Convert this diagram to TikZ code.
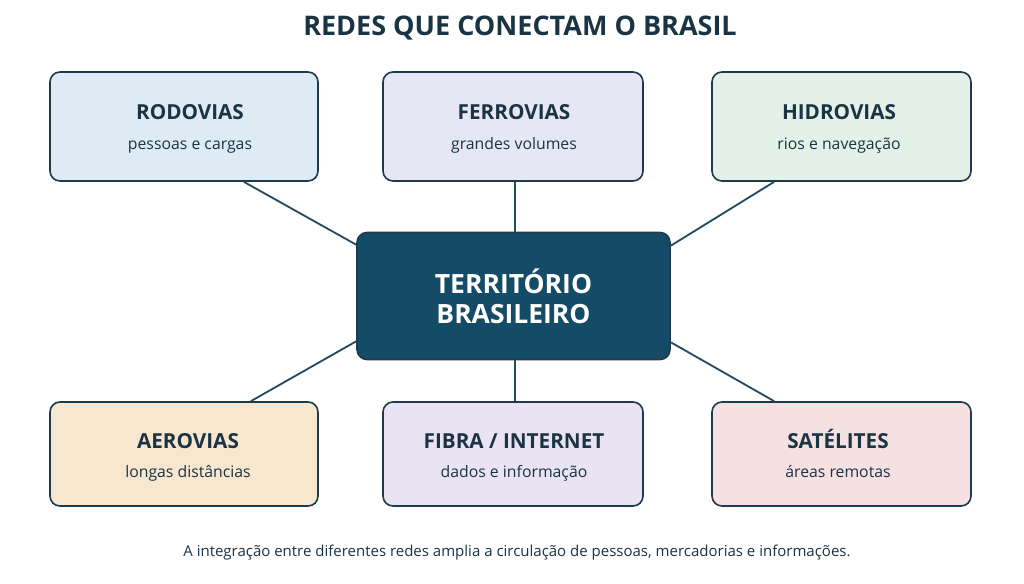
\documentclass[tikz,border=0pt]{standalone}
\usepackage{fontspec}
\setmainfont{Open Sans}
\definecolor{ink}{HTML}{1B3444}
\definecolor{edge}{HTML}{1E3A4C}
\definecolor{link}{HTML}{22495E}
\definecolor{core}{HTML}{144B67}
\definecolor{cRod}{HTML}{DEEBF5}
\definecolor{cFer}{HTML}{E6E6F5}
\definecolor{cHid}{HTML}{E3F1E8}
\definecolor{cAer}{HTML}{F7E7CF}
\definecolor{cFib}{HTML}{E9E3F4}
\definecolor{cSat}{HTML}{F5E1E1}
\tikzset{
  netbox/.style={draw=edge, line width=1.6pt, rounded corners=10pt, minimum height=#1, inner sep=0pt},
  corebox/.style={draw=edge, fill=core, line width=1.6pt, rounded corners=10pt, minimum width=313pt, minimum height=127pt, text=white, font=\fontsize{26.5}{30}\selectfont\bfseries, align=center},
  boxtitle/.style={text=ink, anchor=base, font=\fontsize{20.7}{24}\selectfont\bfseries},
  boxsub/.style={text=ink, anchor=base, font=\fontsize{15.8}{19}\selectfont},
  conn/.style={draw=link, line width=1.8pt}
}
\begin{document}
\begin{tikzpicture}[x=1pt,y=-1pt]
\useasboundingbox[fill=white] (0,0) rectangle (1024,583);
\node[text=ink, font=\fontsize{27}{32}\selectfont\bfseries] (title) at (520,28) {REDES QUE CONECTAM O BRASIL};
% boxes
\node[netbox=109pt, fill=cRod, minimum width=268pt] (rod) at (184,126.5) {};
\node[netbox=109pt, fill=cFer, minimum width=260pt] (fer) at (513,126.5) {};
\node[netbox=109pt, fill=cHid, minimum width=259pt] (hid) at (841.5,126.5) {};
\node[netbox=104pt, fill=cAer, minimum width=268pt] (aer) at (184,454) {};
\node[netbox=104pt, fill=cFib, minimum width=260pt] (fib) at (513,454) {};
\node[netbox=104pt, fill=cSat, minimum width=259pt] (sat) at (841.5,454) {};
\node[corebox] (ctr) at (513.5,296) {TERRITÓRIO\\BRASILEIRO};
% labels
\node[boxtitle] (rodT) at (190,119) {RODOVIAS};
\node[boxsub] (rodS) at (190,149) {pessoas e cargas};
\node[boxtitle] (ferT) at (514,119) {FERROVIAS};
\node[boxsub] (ferS) at (514,149) {grandes volumes};
\node[boxtitle] (hidT) at (839,119) {HIDROVIAS};
\node[boxsub] (hidS) at (839,149) {rios e navegação};
\node[boxtitle] (aerT) at (188,448) {AEROVIAS};
\node[boxsub] (aerS) at (188,477) {longas distâncias};
\node[boxtitle] (fibT) at (514,448) {FIBRA / INTERNET};
\node[boxsub] (fibS) at (514,477) {dados e informação};
\node[boxtitle] (satT) at (838,448) {SATÉLITES};
\node[boxsub] (satS) at (838,477) {áreas remotas};
% connectors drawn between named nodes
\draw[conn] ([xshift=-75pt]rod.south east) -- ([yshift=-13pt]ctr.north west);
\draw[conn] ([xshift=2pt]fer.south) -- ([xshift=1.5pt]ctr.north);
\draw[conn] ([xshift=63pt]hid.south west) -- ([yshift=-14pt]ctr.north east);
\draw[conn] ([xshift=-68pt]aer.north east) -- ([yshift=19pt]ctr.south west);
\draw[conn] ([xshift=2pt]fib.north) -- ([xshift=1.5pt]ctr.south);
\draw[conn] ([xshift=63pt]sat.north west) -- ([yshift=18pt]ctr.south east);
\node[text=ink, font=\fontsize{15}{18}\selectfont] (foot) at (517,553) {A integração entre diferentes redes amplia a circulação de pessoas, mercadorias e informações.};
\end{tikzpicture}
\end{document}
